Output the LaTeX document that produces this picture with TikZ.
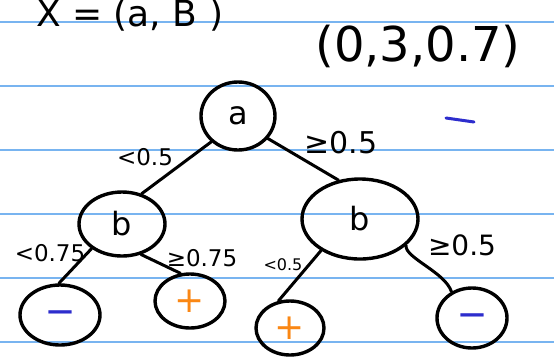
\documentclass[tikz,border=0pt]{standalone}
\usepackage{fontspec}
\setmainfont{DejaVu Sans}
\usetikzlibrary{shapes.geometric}
\definecolor{ruleblue}{RGB}{120,180,240}
\definecolor{minusblue}{RGB}{45,45,205}
\definecolor{plusorange}{RGB}{250,135,20}
\tikzset{
  blob/.style={draw=black, line width=3.4pt, ellipse, inner sep=0pt},
  edge/.style={draw=black, line width=3pt, line cap=round},
  lbl/.style={font=\fontsize{23}{23}\selectfont, inner sep=0pt},
  rule/.style={draw=ruleblue, line width=1.3pt}
}
\begin{document}
\begin{tikzpicture}[x=1pt,y=-1pt]
\useasboundingbox (0,0) rectangle (554,360);
\clip (0,0) rectangle (554,360);
\fill[white] (0,0) rectangle (554,360);
% ruled lines
\foreach \yy in {22,86,150,214,278,342} {
  \draw[rule] (0,\yy) -- (554,\yy);
}
% header texts
\node[anchor=base west, inner sep=0pt, font=\fontsize{36}{36}\selectfont] (xdef) at (36,26) {X = (a, B )};
\node[inner sep=0pt, font=\fontsize{48}{48}\selectfont] (vec) at (418,46) {(0,3,0.7)};
\coordinate (dashA) at (446,118);
\coordinate (dashB) at (474,122);
\draw[minusblue, line width=3pt, line cap=round] (dashA) -- (dashB);
% nodes
\node[blob, minimum width=74pt, minimum height=68pt, font=\fontsize{32}{32}\selectfont] (a) at (238,116) {a};
\node[blob, minimum width=86pt, minimum height=64pt, font=\fontsize{32}{32}\selectfont] (bl) at (122,224) {b};
\node[blob, minimum width=116pt, minimum height=80pt, font=\fontsize{32}{32}\selectfont] (br) at (360,219) {b};
\node[blob, minimum width=80pt, minimum height=60pt, text=minusblue, font=\fontsize{26}{26}\selectfont\bfseries] (ll) at (60,315) {—};
\node[blob, minimum width=70pt, minimum height=54pt, text=plusorange, font=\fontsize{36}{36}\selectfont] (lr) at (190,301) {+};
\node[blob, minimum width=68pt, minimum height=54pt, text=plusorange, font=\fontsize{36}{36}\selectfont] (rl) at (290,328) {+};
\node[blob, minimum width=70pt, minimum height=60pt, text=minusblue, font=\fontsize{26}{26}\selectfont\bfseries] (rr) at (472,318) {—};
% edges
\draw[edge] (a.224) -- (bl.57);
\draw[edge] (a.323) -- (br.119);
\draw[edge] (bl.219) -- (ll.92);
\draw[edge] (bl.302) -- (lr.109);
\draw[edge] (br.219) -- (rl.113);
\draw[edge] (br.330) .. controls (405,258) and (445,272) .. (rr.128);
% labels
\node[lbl] (l1) at (145,157) {<0.5};
\node[lbl, font=\fontsize{30}{30}\selectfont] (l2) at (341,143) {≥0.5};
\node[lbl] (l3) at (50,253) {<0.75};
\node[lbl] (l4) at (202,258) {≥0.75};
\node[lbl, font=\fontsize{16}{16}\selectfont] (l5) at (283,265) {<0.5};
\node[lbl, font=\fontsize{28}{28}\selectfont] (l6) at (462,245) {≥0.5};
\end{tikzpicture}
\end{document}
